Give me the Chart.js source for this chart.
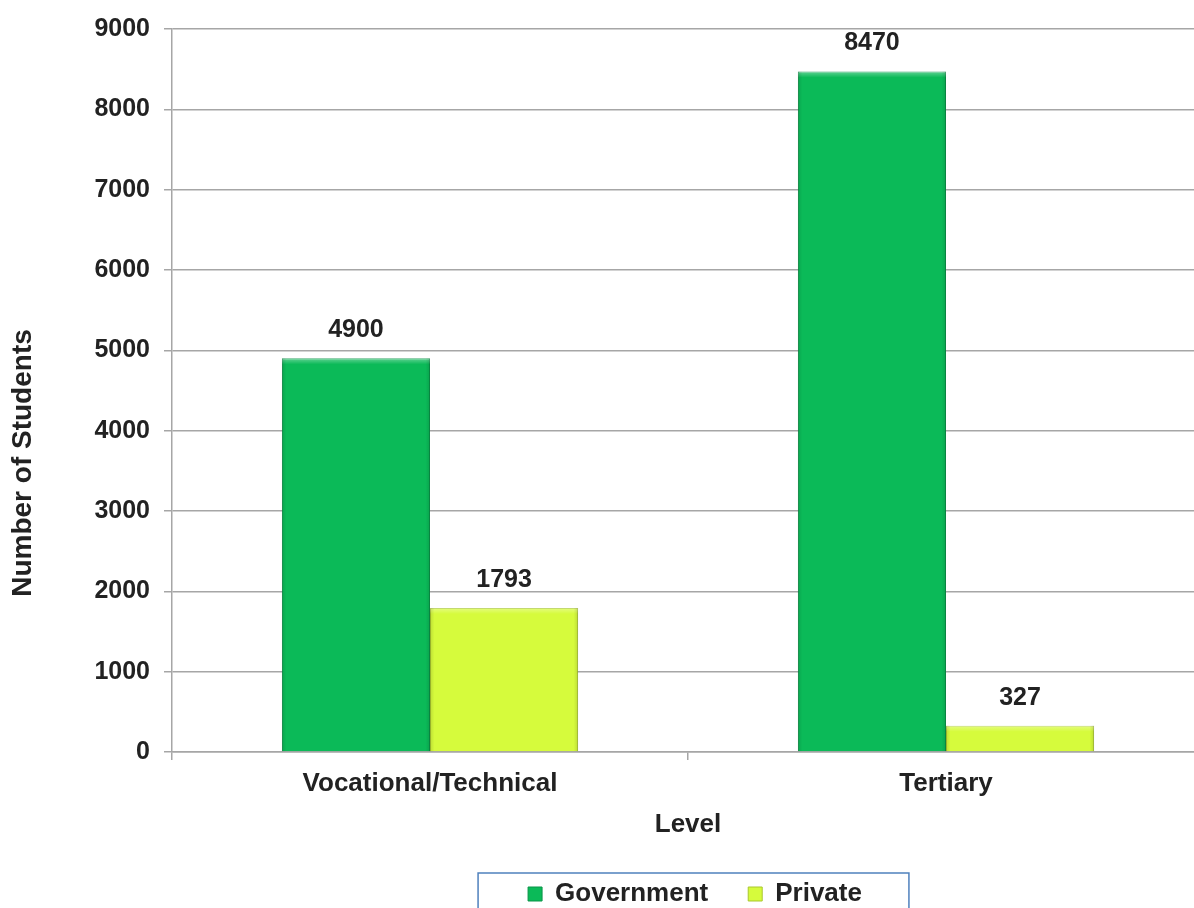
<!DOCTYPE html>
<html>
<head>
<meta charset="utf-8">
<script src="https://cdn.jsdelivr.net/npm/chart.js@4/dist/chart.umd.min.js"></script>
<style>
  html, body { margin: 0; padding: 0; background: #fff; overflow: hidden; }
  #wrap { position: relative; width: 1204px; height: 917px; }
</style>
</head>
<body>
<div id="wrap"><canvas id="chart"></canvas></div>
<script>
// --- data ---
const levels = ['Vocational/Technical', 'Tertiary'];
const governmentStudents = [4900, 8470];
const privateStudents = [1793, 327];
const seriesNames = ['Government', 'Private'];
const yTitle = 'Number of Students';
const xTitle = 'Level';

const FONT = "'Liberation Sans', Arial, sans-serif";
const TEXT = '#222222';

// soft bevel on each bar + value labels above
const barDecor = {
    id: 'barDecor',
    afterDatasetsDraw(chart) {
        const c = chart.ctx;
        c.save();
        chart.data.datasets.forEach((ds, i) => {
            chart.getDatasetMeta(i).data.forEach(bar => {
                const l = bar.x - bar.width / 2, r = bar.x + bar.width / 2;
                const t = bar.y, b = bar.base;
                const e = Math.min(6, (b - t) / 3);
                let g = c.createLinearGradient(0, t, 0, t + e);
                g.addColorStop(0, 'rgba(255,255,255,0.35)');
                g.addColorStop(1, 'rgba(255,255,255,0)');
                c.fillStyle = g;
                c.fillRect(l, t, r - l, e);
                g = c.createLinearGradient(l, 0, r, 0);
                g.addColorStop(0, 'rgba(0,0,0,0.12)');
                g.addColorStop(0.03, 'rgba(0,0,0,0)');
                g.addColorStop(0.97, 'rgba(0,0,0,0)');
                g.addColorStop(1, 'rgba(0,0,0,0.12)');
                c.fillStyle = g;
                c.fillRect(l, t, r - l, b - t);
            });
        });
        c.font = `bold 25px ${FONT}`;
        c.fillStyle = TEXT;
        c.textAlign = 'center';
        c.textBaseline = 'middle';
        chart.data.datasets.forEach((ds, i) => {
            chart.getDatasetMeta(i).data.forEach((bar, j) => {
                c.fillText(ds.data[j], bar.x, bar.y - 28);
            });
        });
        c.restore();
    }
};

// y title sits a bit below the middle of the plot, as in the original
const sideTitle = {
    id: 'sideTitle',
    afterDraw(chart) {
        const c = chart.ctx;
        c.save();
        c.translate(23, 463);
        c.rotate(-Math.PI / 2);
        c.font = `bold 28px ${FONT}`;
        c.fillStyle = TEXT;
        c.textAlign = 'center';
        c.textBaseline = 'middle';
        c.fillText(yTitle, 0, 0);
        c.restore();
    }
};

// legend is centred under the plot, then framed
const legendFrame = {
    id: 'legendFrame',
    afterLayout(chart) {
        chart.legend.left += 93;
        chart.legend.right += 93;
    },
    afterDraw(chart) {
        const boxes = chart.legend.legendHitBoxes;
        if(!boxes || !boxes.length) return;
        const first = boxes[0], last = boxes[boxes.length - 1];
        const x0 = first.left - 50, x1 = last.left + last.width + 47;
        const y0 = first.top - 8;
        const c = chart.ctx;
        c.save();
        c.strokeStyle = '#4f81bd';
        c.lineWidth = 1.5;
        c.strokeRect(x0, y0, x1 - x0, 60);
        c.restore();
    }
};

const ctx = document.getElementById('chart').getContext('2d');
new Chart(ctx, {
    type: 'bar',
    data: {
        labels: levels,
        datasets: [
            { label: seriesNames[0], data: governmentStudents, backgroundColor: '#0bba58', borderColor: '#0a9448', borderWidth: 1 },
            { label: seriesNames[1], data: privateStudents, backgroundColor: '#d6fb3c', borderColor: '#a9c72e', borderWidth: 1 }
        ]
    },
    options: {
        responsive: true,
        maintainAspectRatio: false,
        animation: false,
        layout: { padding: { top: 26, right: 0, left: 0, bottom: 0 } },
        datasets: { bar: { categoryPercentage: 0.574, barPercentage: 1 } },
        plugins: {
            legend: {
                position: 'bottom',
                labels: {
                    font: { family: FONT, size: 26, weight: 'bold' },
                    color: TEXT,
                    boxWidth: 14,
                    boxHeight: 14,
                    padding: 40
                }
            },
            tooltip: { enabled: false }
        },
        scales: {
            x: {
                grid: { display: true, drawOnChartArea: false, drawTicks: true, tickLength: 8, color: '#a6a6a6', lineWidth: 1.5, offset: true },
                border: { color: '#a6a6a6', width: 1.5 },
                ticks: { font: { family: FONT, size: 26, weight: 'bold' }, color: TEXT, padding: 8 },
                title: { display: true, text: xTitle, font: { family: FONT, size: 26, weight: 'bold' }, color: TEXT, padding: { top: 0, bottom: 1 } },
                afterFit(s) { s.height = 89; }
            },
            y: {
                min: 0, max: 9000,
                ticks: { stepSize: 1000, font: { family: FONT, size: 25, weight: 'bold' }, color: TEXT, padding: 14, callback: v => String(v) },
                grid: { color: '#a6a6a6', lineWidth: 1.5, tickLength: 8 },
                border: { color: '#a6a6a6', width: 1.5 },
                afterFit(s) { s.width = 172; }
            }
        }
    },
    plugins: [barDecor, sideTitle, legendFrame]
});
</script>
</body>
</html>
